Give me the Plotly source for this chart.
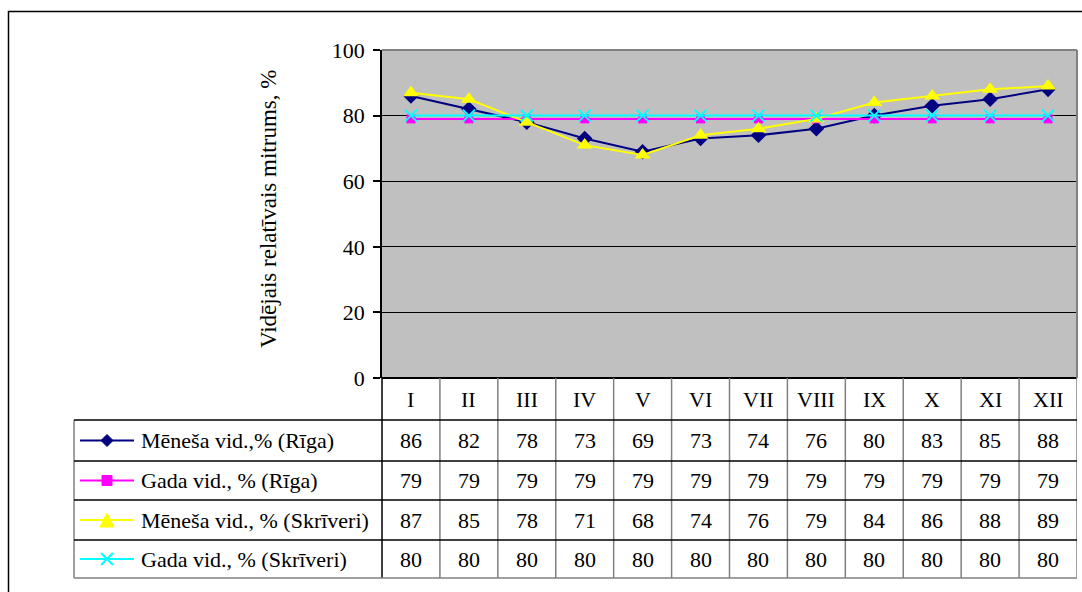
import plotly.graph_objects as go

W, H = 1082, 592

months = ["I", "II", "III", "IV", "V", "VI", "VII", "VIII", "IX", "X", "XI", "XII"]
riga_month = [86, 82, 78, 73, 69, 73, 74, 76, 80, 83, 85, 88]
riga_year = [79] * 12
skriveri_month = [87, 85, 78, 71, 68, 74, 76, 79, 84, 86, 88, 89]
skriveri_year = [80] * 12

series_names = [
    "Mēneša vid.,% (Rīga)",
    "Gada vid., % (Rīga)",
    "Mēneša vid., % (Skrīveri)",
    "Gada vid., % (Skrīveri)",
]
series_values = [riga_month, riga_year, skriveri_month, skriveri_year]
series_colors = ["#000080", "#FF00FF", "#FFFF00", "#00FFFF"]
series_symbols = ["diamond", "square", "triangle-up", "x-thin"]
marker_sizes = [12, 9, 14, 12]

y_title = "Vidējais relatīvais mitrums, %"
y_ticks = [0, 20, 40, 60, 80, 100]

FONT = "'Liberation Serif'"
FS = 22
FS_TITLE = 23

# pixel -> paper helpers
def PX(x):
    return x / W

def PY(y):
    return 1 - y / H

plot_l, plot_r, plot_t, plot_b = 382, 1077, 50, 378
row_lines = [378, 420, 461, 500, 540, 578]
table_l = 74

xs = list(range(len(months)))

fig = go.Figure()
for name, vals, col, sym, ms in zip(series_names, series_values, series_colors,
                                    series_symbols, marker_sizes):
    marker = dict(symbol=sym, size=ms, color=col)
    if sym == "x-thin":
        marker["line"] = dict(color=col, width=2)
    fig.add_trace(go.Scatter(
        x=xs, y=vals, mode="lines+markers", name=name,
        line=dict(color=col, width=2), marker=marker,
        showlegend=False, cliponaxis=False,
    ))

shapes = []
annotations = []

# outer chart frame
shapes.append(dict(type="rect", xref="paper", yref="paper",
                   x0=PX(8.5), x1=PX(1100), y0=PY(11.5), y1=PY(620),
                   line=dict(color="black", width=1.5), layer="below"))

# plot area border (top / right) in gray
shapes.append(dict(type="line", xref="x domain", yref="y domain",
                   x0=0, x1=1, y0=1, y1=1, line=dict(color="#808080", width=2)))
shapes.append(dict(type="line", xref="x domain", yref="y domain",
                   x0=1, x1=1, y0=0, y1=1, line=dict(color="#808080", width=2)))

# data table: vertical column separators
for i in range(1, len(months) + 1):
    xv = i - 0.5
    shapes.append(dict(type="line", xref="x", yref="paper",
                       x0=xv, x1=xv, y0=PY(plot_b), y1=PY(row_lines[-1]),
                       line=dict(color="#808080", width=1.5)))
# label column borders
shapes.append(dict(type="line", xref="paper", yref="paper",
                   x0=PX(plot_l), x1=PX(plot_l), y0=PY(plot_b), y1=PY(row_lines[-1]),
                   line=dict(color="black", width=1.5)))
shapes.append(dict(type="line", xref="paper", yref="paper",
                   x0=PX(table_l), x1=PX(table_l), y0=PY(row_lines[1]), y1=PY(row_lines[-1]),
                   line=dict(color="#808080", width=1.5)))
# horizontal row lines
for k, ry in enumerate(row_lines[1:], start=1):
    col = "#808080" if k == len(row_lines) - 1 else "black"
    shapes.append(dict(type="line", xref="paper", yref="paper",
                       x0=PX(table_l), x1=PX(plot_r), y0=PY(ry), y1=PY(ry),
                       line=dict(color=col, width=1.5)))

# header row: month names
hy = (row_lines[0] + row_lines[1]) / 2
for i, m in enumerate(months):
    annotations.append(dict(x=i, y=PY(hy), xref="x", yref="paper", text=m,
                            showarrow=False, font=dict(family=FONT, size=FS, color="black"),
                            xanchor="center", yanchor="middle"))

# value rows with legend keys
for r, (name, vals, col, sym, ms) in enumerate(zip(series_names, series_values,
                                                   series_colors, series_symbols,
                                                   marker_sizes)):
    cy = (row_lines[r + 1] + row_lines[r + 2]) / 2
    for i, v in enumerate(vals):
        annotations.append(dict(x=i, y=PY(cy), xref="x", yref="paper", text=str(v),
                                showarrow=False,
                                font=dict(family=FONT, size=FS, color="black"),
                                xanchor="center", yanchor="middle"))
    annotations.append(dict(x=PX(139), y=PY(cy), xref="paper", yref="paper", text=name,
                            showarrow=False, font=dict(family=FONT, size=FS, color="black"),
                            xanchor="left", yanchor="middle"))
    # legend key line
    shapes.append(dict(type="line", xref="paper", yref="paper",
                       x0=PX(80), x1=PX(134), y0=PY(cy), y1=PY(cy),
                       line=dict(color=col, width=2)))
    kx = 107
    if sym == "diamond":
        path = f"M {PX(kx-6)} {PY(cy)} L {PX(kx)} {PY(cy-6)} L {PX(kx+6)} {PY(cy)} L {PX(kx)} {PY(cy+6)} Z"
        shapes.append(dict(type="path", xref="paper", yref="paper", path=path,
                           fillcolor=col, line=dict(color=col, width=1)))
    elif sym == "square":
        shapes.append(dict(type="rect", xref="paper", yref="paper",
                           x0=PX(kx-5), x1=PX(kx+5), y0=PY(cy-5), y1=PY(cy+5),
                           fillcolor=col, line=dict(color=col, width=1)))
    elif sym == "triangle-up":
        path = f"M {PX(kx-7)} {PY(cy+7)} L {PX(kx)} {PY(cy-7)} L {PX(kx+7)} {PY(cy+7)} Z"
        shapes.append(dict(type="path", xref="paper", yref="paper", path=path,
                           fillcolor=col, line=dict(color=col, width=1)))
    else:
        for dy in (-1, 1):
            shapes.append(dict(type="line", xref="paper", yref="paper",
                               x0=PX(kx-6), x1=PX(kx+6), y0=PY(cy-6*dy), y1=PY(cy+6*dy),
                               line=dict(color=col, width=2)))

# y-axis title
annotations.append(dict(x=PX(268), y=PY(209), xref="paper", yref="paper", text=y_title,
                        showarrow=False, textangle=-90,
                        font=dict(family=FONT, size=FS_TITLE, color="black"),
                        xanchor="center", yanchor="middle"))

fig.update_layout(
    width=W, height=H,
    margin=dict(l=0, r=0, t=0, b=0, autoexpand=False),
    paper_bgcolor="white",
    plot_bgcolor="#C0C0C0",
    font=dict(family=FONT, size=FS, color="black"),
    shapes=shapes,
    annotations=annotations,
    xaxis=dict(domain=[PX(plot_l), PX(plot_r)], range=[-0.5, len(months) - 0.5],
               showticklabels=False, showgrid=False, zeroline=False, automargin=False,
               showline=False, ticks="", fixedrange=True),
    yaxis=dict(domain=[PY(plot_b), PY(plot_t)], range=[0, 100], automargin=False,
               tickvals=y_ticks, ticktext=[str(t) for t in y_ticks],
               ticks="outside", ticklen=7, tickcolor="black", tickwidth=1.5,
               showline=True, linecolor="black", linewidth=1.5,
               showgrid=True, gridcolor="black", gridwidth=1,
               zeroline=True, zerolinecolor="black", zerolinewidth=2,
               tickfont=dict(family=FONT, size=FS, color="black"),
               ticklabelstandoff=4, fixedrange=True),
)

fig.write_html("out.html")
